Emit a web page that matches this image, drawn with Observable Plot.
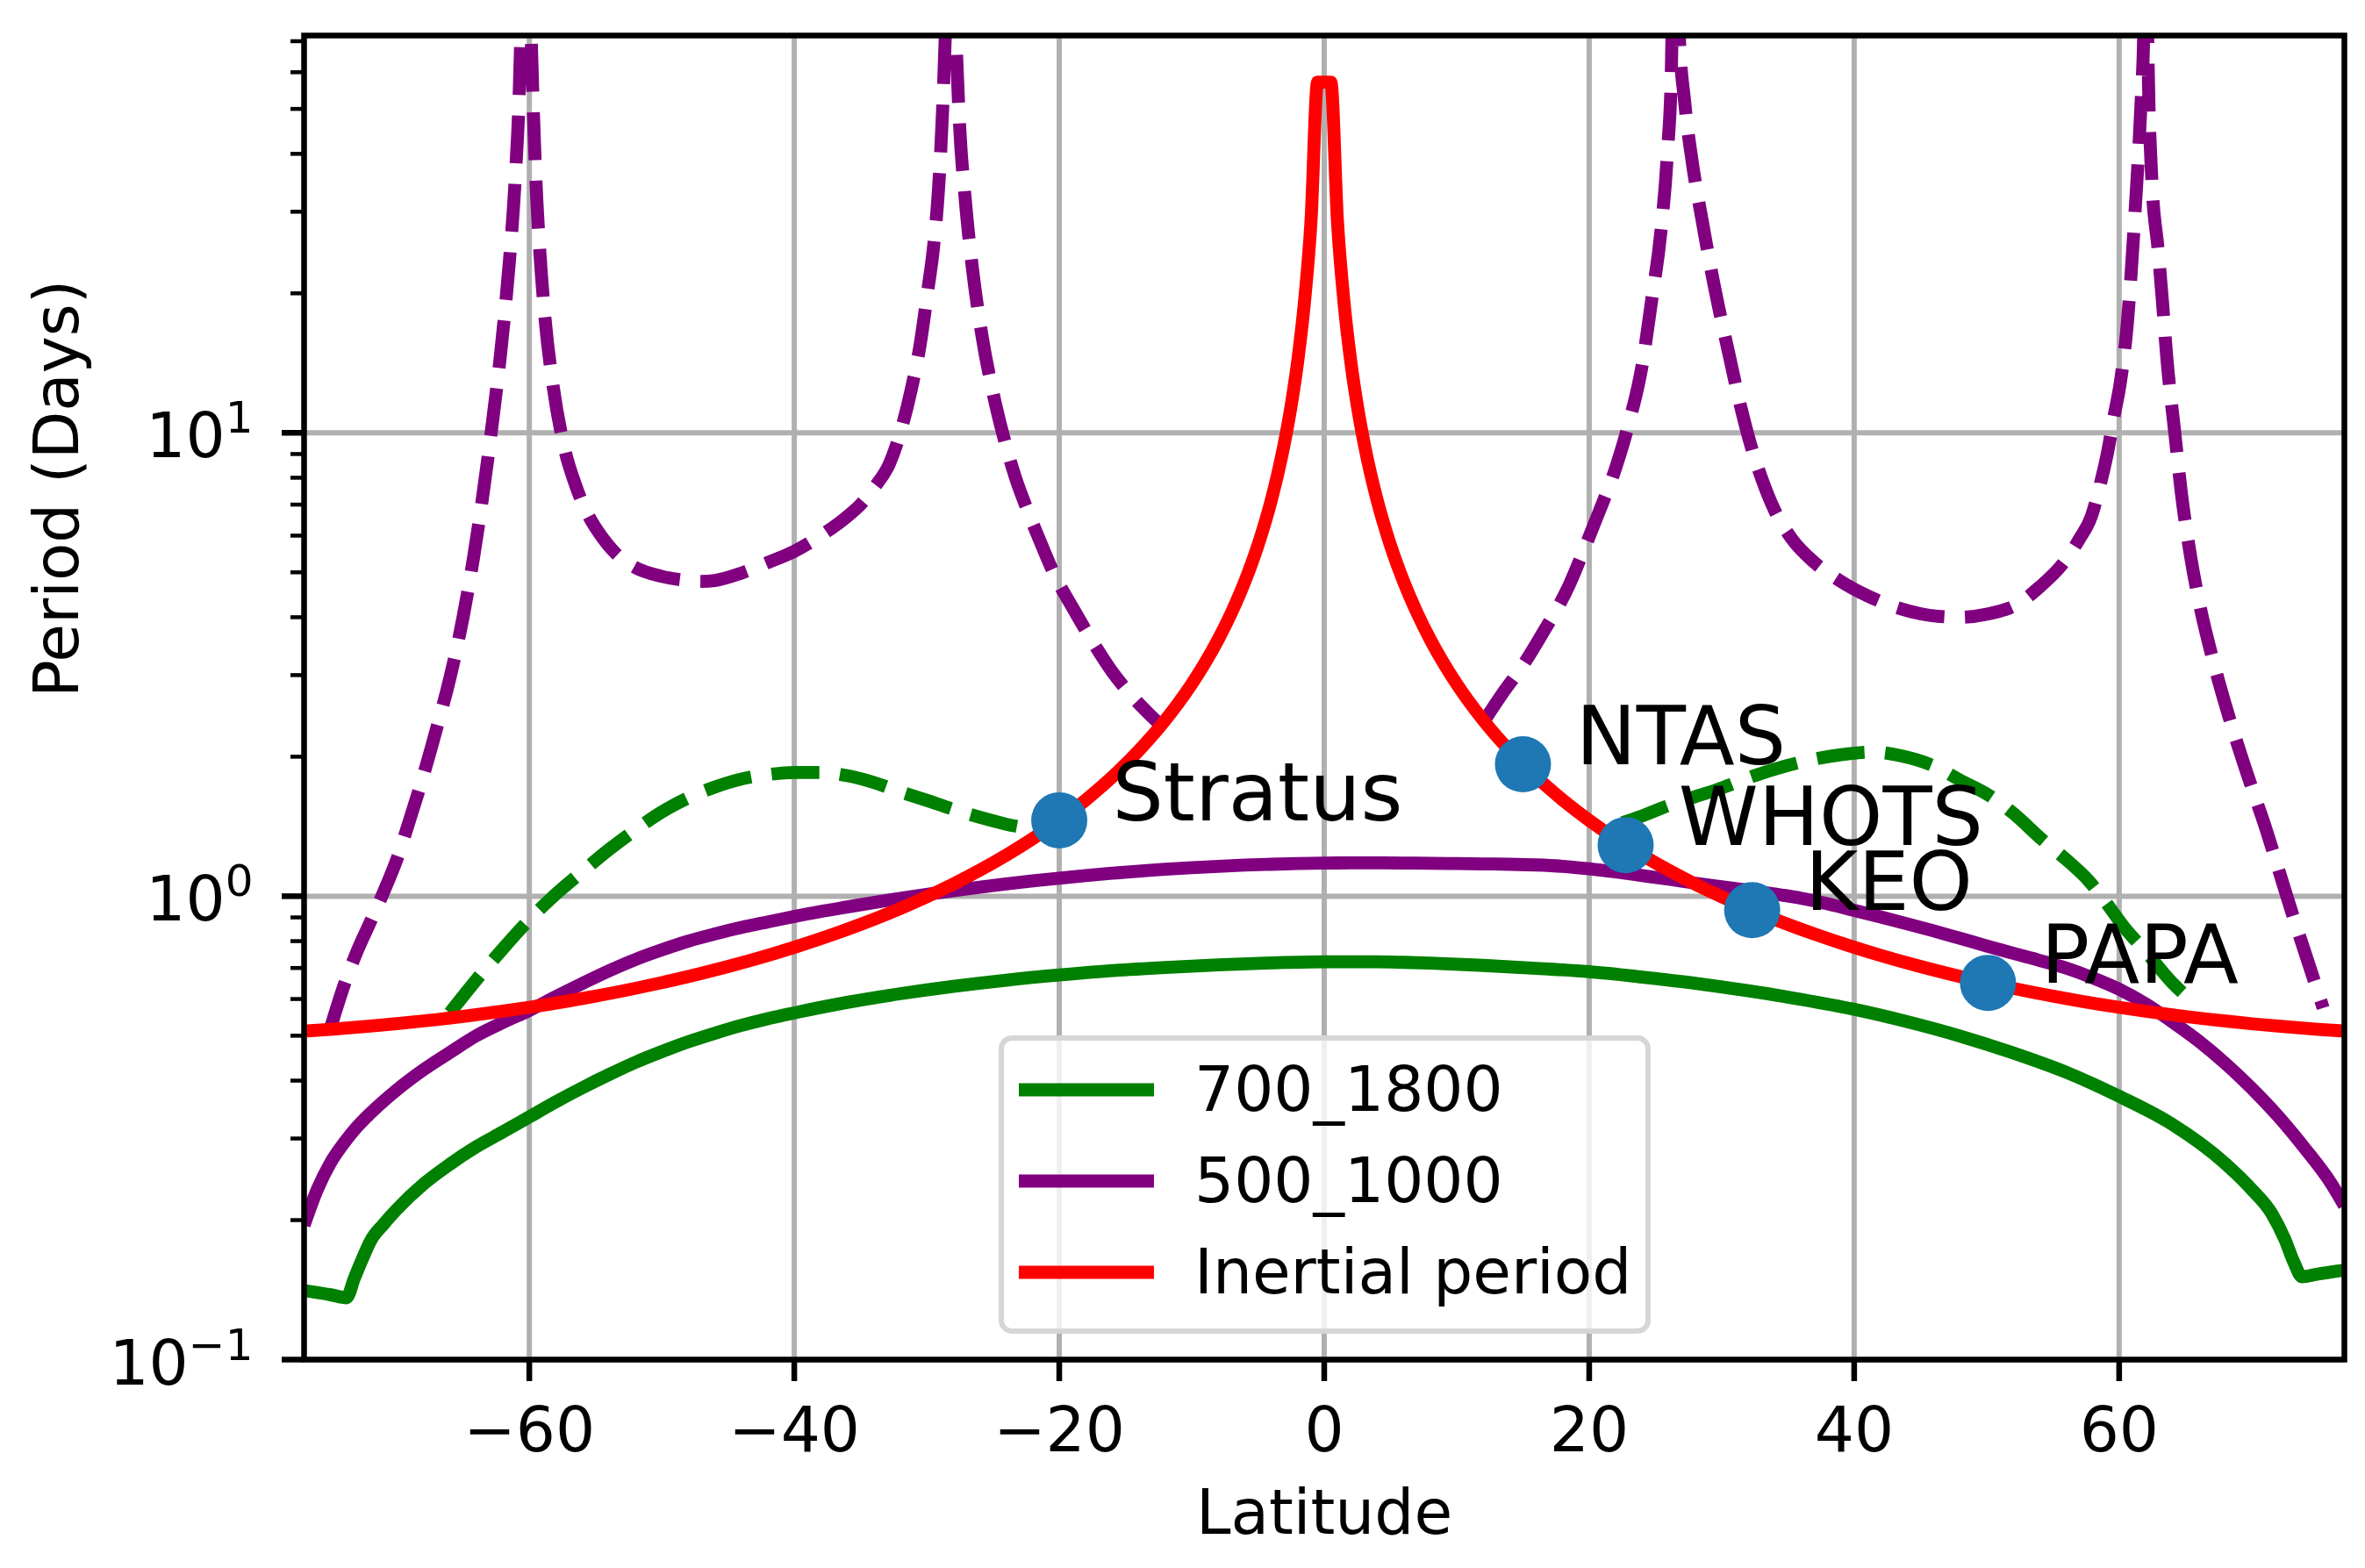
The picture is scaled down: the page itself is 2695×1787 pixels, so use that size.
<!DOCTYPE html>
<html><head><meta charset="utf-8">
<script src="https://cdn.jsdelivr.net/npm/d3@7"></script>
<script src="https://cdn.jsdelivr.net/npm/@observablehq/plot@0.6"></script>
<style>
html,body{margin:0;padding:0;background:#fff;}
#chart{position:relative;width:2695px;height:1787px;}
svg{font-family:"DejaVu Sans",sans-serif;}
</style></head><body><div id="chart"></div>
<script>
// ---- tick values ----
const xTicks = [-60, -40, -20, 0, 20, 40, 60];
const yMajorTicks = [0.1, 1, 10];
const yMinorTicks = [0.2,0.3,0.4,0.5,0.6,0.7,0.8,0.9,2,3,4,5,6,7,8,9,20,30,40,50,60,70];

// ---- series names / colours (legend) ----
const seriesNames = ["700_1800", "500_1000", "Inertial period"];
const seriesColors = ["green", "purple", "red"];

// ---- Inertial period (red) ----
const redLat = [-77,-75,-72,-70,-67,-65,-62,-60,-57,-55,-52,-50,-47,-45,-42,-40,-37,-35,-32,-30,-28,-26,-24,-22,-20,-18,-16,-14,-12,-10,-9,-8,-7,-6,-5,-4,-3.5,-3,-2.5,-2,-1.5,-1,-0.5,
  0.5,1,1.5,2,2.5,3,3.5,4,5,6,7,8,9,10,12,14,16,18,20,22,24,26,28,30,32,35,37,40,42,45,47,50,52,55,57,60,62,65,67,70,72,75,77];
const redVal = [0.5117,0.5162,0.5243,0.5306,0.5417,0.5501,0.5647,0.5757,0.5945,0.6087,0.6327,0.6509,0.6817,0.7051,0.7451,0.7757,0.8285,0.8693,0.9409,0.9972,1.062,1.1374,1.2258,1.331,1.4578,1.6135,1.8089,2.061,2.3981,2.8713,3.1873,3.5826,4.0913,4.77,5.7208,7.1478,8.167,9.5268,11.431,14.287,19.047,28.57,57.13,
  57.13,28.57,19.047,14.287,11.431,9.5268,8.167,7.1478,5.7208,4.77,4.0913,3.5826,3.1873,2.8713,2.3981,2.061,1.8089,1.6135,1.4578,1.331,1.2258,1.1374,1.062,0.9972,0.9409,0.8693,0.8285,0.7757,0.7451,0.7051,0.6817,0.6509,0.6327,0.6087,0.5945,0.5757,0.5647,0.5501,0.5417,0.5306,0.5243,0.5162,0.5117];

// ---- 500_1000 (purple solid) ----
const purpleLat = [-77,-76,-75,-74,-73,-72,-70,-68,-66,-64,-62,-60,-58,-56,-54,-52,-50,-48,-46,-44,-42,-40,-38,-36,-34,-32,-30,-28,-26,-24,-22,-20,-18,-16,-14,-12,-10,-8,-6,-4,-2,0,
  2,4,6,8,10,12,14,16,18,20,22,24,26,28,30,32,34,36,38,40,42,44,46,48,50,52,54,56,58,60,62,64,66,68,70,72,74,76,77];
const purpleVal = [0.195,0.233,0.266,0.293,0.318,0.34,0.382,0.422,0.46,0.5,0.534,0.567,0.607,0.648,0.69,0.73,0.766,0.8,0.829,0.856,0.88,0.904,0.927,0.948,0.969,0.99,1.009,1.028,1.046,1.063,1.079,1.094,1.108,1.121,1.132,1.143,1.152,1.16,1.167,1.172,1.176,1.179,
  1.18,1.18,1.179,1.178,1.176,1.174,1.172,1.168,1.16,1.146,1.128,1.108,1.088,1.067,1.048,1.03,1.011,0.99,0.963,0.932,0.902,0.872,0.842,0.811,0.781,0.753,0.727,0.7,0.667,0.63,0.586,0.536,0.487,0.436,0.385,0.335,0.286,0.24,0.215];

// ---- 700_1800 (green solid) ----
const greenLat = [-77,-75,-73.8,-73.2,-72.5,-72,-71,-70,-68,-66,-64,-62,-60,-58,-56,-54,-52,-50,-48,-46,-44,-42,-40,-36,-32,-28,-24,-20,-16,-12,-8,-4,0,
  2,4,6,8,12,16,20,24,28,32,36,40,44,48,52,56,60,64,68,70,71.5,72.5,73.2,73.8,75,77];
const greenVal = [0.141,0.138,0.136,0.15,0.1675,0.18,0.196,0.211,0.239,0.264,0.288,0.31,0.334,0.36,0.386,0.412,0.438,0.462,0.485,0.506,0.526,0.544,0.56,0.59,0.616,0.639,0.659,0.676,0.691,0.702,0.711,0.718,0.722,
  0.722,0.722,0.72,0.717,0.709,0.699,0.687,0.669,0.649,0.625,0.599,0.57,0.536,0.499,0.459,0.417,0.37,0.322,0.265,0.233,0.207,0.182,0.162,0.151,0.153,0.156];

// ---- 700_1800 shifted (green dashed) ----
const greenDashLeftLat = [-66,-64,-62,-60,-58,-56,-54,-52,-50,-48,-46,-44,-42,-40,-38,-36,-34,-32,-30,-28,-26,-24,-22,-21.3];
const greenDashLeftVal = [0.56,0.66,0.77,0.89,1.01,1.13,1.26,1.39,1.52,1.63,1.72,1.79,1.83,1.85,1.85,1.82,1.76,1.68,1.61,1.54,1.48,1.43,1.39,1.37];
const greenDashRightLat = [22.5,23.7,26,28,29.7,32,34,36.6,39,41.4,43.5,46.1,48,50.4,52,54.2,56,57.7,59,60.4,62,64,65.7];
const greenDashRightVal = [1.44,1.48,1.57,1.64,1.7,1.8,1.88,1.966,2.02,2.047,2.01,1.905,1.78,1.635,1.51,1.324,1.2,1.08,0.97,0.856,0.76,0.651,0.587];

// ---- 500_1000 shifted (purple dashed) ----
const purpleDashLeftLat = [-75,-74,-73,-72,-71,-70,-69,-68,-67,-66,-65,-64.2,-63.7,-63.2,-62.7,-62.2,-61.8,-61.5,-61.2,-61.0,-60.8,-60.65,-60.25,-59.85,-59.7,-59.5,-59.2,-58.8,-58.2,-57.4,-56.5,-55.5,-54.5,-53.5,-52,-50,-48,-47,-46,-44,-42,-40,-38,-36,-35,-34,-32.8,-32,-31.2,-30.5,-29.9,-29.5,-29.1,-28.8,-28.6,-28.2,-27.8,-27.5,-27.1,-26.5,-25.8,-25,-24.2,-23.3,-22.3,-21.3,-20.3,-19,-17.5,-16,-14.5,-13.2,-12.2];
const purpleDashLeftVal = [0.52,0.64,0.76,0.88,1.02,1.2,1.47,1.82,2.3,2.95,4.0,5.4,6.7,8.5,11.0,14.5,18.8,23.5,30.5,38,50,70,200,70,50,35,24.5,17.5,12.6,9.4,7.7,6.6,5.95,5.5,5.12,4.9,4.8,4.78,4.8,4.98,5.25,5.55,6.0,6.6,7.0,7.6,8.6,10,12.3,15.5,20.5,25,34,50,72,200,72,45,32,22,16,12.2,9.8,8.0,6.7,5.7,4.9,4.2,3.55,3.05,2.7,2.47,2.32];
const purpleDashRightLat = [12.2,13.5,15,16.5,18.5,19.5,20.7,22,23,24,24.7,25.4,25.9,26.2,26.5,26.8,27.2,27.8,28.5,29.2,29.8,30.5,31.4,32.2,33,34,35.3,37,38.8,41,43.2,45,46.3,48,50,52.4,54,55.7,57,57.9,58.6,59.1,59.6,60.1,60.6,60.9,61.2,61.5,61.7,61.85,62.0,62.16,62.45,62.95,63.25,63.6,64.2,64.7,65.4,66.2,67,68,69,70,71,72,73,74,75.4];
const purpleDashRightVal = [2.42,2.75,3.15,3.7,4.7,5.5,6.7,8.4,10.5,14,19.2,27,40,60,200,72,52,38,29,22.5,18.5,15,11.5,9.4,8.0,6.8,5.9,5.25,4.82,4.45,4.2,4.07,4.02,4.0,4.06,4.28,4.65,5.2,5.9,6.6,7.8,9.0,10.8,12.9,17,22,30,42,55,72,200,70,36,24.7,19.5,14.5,10,7.4,5.4,4.1,3.3,2.6,2.1,1.72,1.42,1.15,0.93,0.76,0.574];

// ---- moorings ----
const stationNames = ["Stratus", "NTAS", "WHOTS", "KEO", "PAPA"];
const stationLat = [-20, 15, 22.75, 32.3, 50.1];
const stationPeriod = [1.458, 1.926, 1.289, 0.933, 0.650];

// ---- build tables ----
const toRows = (lats, vals) => lats.map((lat, i) => ({lat, value: vals[i]}));
const red = toRows(redLat, redVal);
const purple = toRows(purpleLat, purpleVal);
const green = toRows(greenLat, greenVal);
const gdL = toRows(greenDashLeftLat, greenDashLeftVal);
const gdR = toRows(greenDashRightLat, greenDashRightVal);
const pdL = toRows(purpleDashLeftLat, purpleDashLeftVal);
const pdR = toRows(purpleDashRightLat, purpleDashRightVal);
const stations = stationNames.map((name, i) => ({name, lat: stationLat[i], value: stationPeriod[i]}));

const LW = 14.8;
const DASH = "54.5,23.5";
const solid = (data, color) => Plot.line(data, {x: "lat", y: "value", stroke: color, strokeWidth: LW, curve: "monotone-x", strokeLinejoin: "round", strokeLinecap: "butt", clip: true});
const dashed = (data, color) => Plot.line(data, {x: "lat", y: "value", stroke: color, strokeWidth: LW, curve: "monotone-x", strokeDasharray: DASH, strokeLinejoin: "round", strokeLinecap: "butt", clip: true});

const fmtLat = d => d < 0 ? "\u2212" + Math.abs(d) : String(d);

const plot = Plot.plot({
  width: 2695, height: 1787,
  marginLeft: 346, marginRight: 24, marginTop: 40, marginBottom: 238,
  style: {fontFamily: '"DejaVu Sans", sans-serif', background: "white", color: "black"},
  x: {domain: [-77, 77], label: null},
  y: {type: "log", domain: [0.1, 72], label: null},
  marks: [
    Plot.gridX(xTicks, {stroke: "#b0b0b0", strokeOpacity: 1, strokeWidth: 6}),
    Plot.gridY(yMajorTicks, {stroke: "#b0b0b0", strokeOpacity: 1, strokeWidth: 6}),
    solid(green, seriesColors[0]),
    dashed(gdL, seriesColors[0]),
    dashed(gdR, seriesColors[0]),
    solid(purple, seriesColors[1]),
    dashed(pdL, seriesColors[1]),
    dashed(pdR, seriesColors[1]),
    solid(red, seriesColors[2]),
    Plot.dot(stations, {x: "lat", y: "value", r: 32, fill: "#1f77b4", stroke: null}),
    Plot.text(stations, {x: "lat", y: "value", text: "name", dx: 60.4, textAnchor: "start", lineAnchor: "bottom", fontSize: 92, fill: "black"}),
    Plot.frame({stroke: "black", strokeWidth: 6.5}),
    Plot.axisX(xTicks, {anchor: "bottom", tickSize: 25, tickPadding: 28.6, strokeWidth: 6.5, fontSize: 71, tickFormat: fmtLat, label: null}),
    Plot.axisY(yMajorTicks, {anchor: "left", tickSize: 25, tickPadding: 33, strokeWidth: 6.5, fontSize: 71, tickFormat: d => "E" + Math.round(Math.log10(d)), label: null}),
    Plot.axisY(yMinorTicks, {anchor: "left", tickSize: 15, strokeWidth: 4.5, fill: "none", tickFormat: () => "", label: null}),
    Plot.text(["Latitude"], {text: d => d, frameAnchor: "bottom", dy: 198, lineAnchor: "bottom", fontSize: 71, fill: "black"}),
    Plot.text(["Period (Days)"], {text: d => d, frameAnchor: "left", dx: -258, rotate: -90, lineAnchor: "bottom", fontSize: 71, fill: "black"})
  ]
});

// superscript exponents on y tick labels (10^n)
d3.select(plot).selectAll("text").each(function () {
  const m = /^E(-?\d+)$/.exec(this.textContent);
  if (!m) return;
  const e = m[1].replace("-", "\u2212");
  this.textContent = "10";
  this.setAttribute("y", "28");
  const ts = document.createElementNS("http://www.w3.org/2000/svg", "tspan");
  ts.setAttribute("dy", "-28");
  ts.setAttribute("font-size", "50");
  ts.textContent = e;
  this.appendChild(ts);
});

// legend (inside axes, lower centre)
const lg = d3.select(plot).append("g").attr("class", "legend")
  .attr("text-anchor", "start").attr("font-family", '"DejaVu Sans", sans-serif');
lg.append("rect").attr("x", 1141).attr("y", 1183).attr("width", 737).attr("height", 334)
  .attr("rx", 12).attr("fill", "white").attr("fill-opacity", 0.8)
  .attr("stroke", "#d6d6d6").attr("stroke-width", 6);
seriesNames.forEach((name, i) => {
  const cy = 1242 + i * 104;
  lg.append("line").attr("x1", 1161).attr("x2", 1315).attr("y1", cy).attr("y2", cy)
    .attr("stroke", seriesColors[i]).attr("stroke-width", LW);
  lg.append("text").attr("x", 1361).attr("y", cy + 24).attr("font-size", 71)
    .attr("text-anchor", "start").attr("fill", "black").text(name);
});

document.getElementById("chart").appendChild(plot);
</script></body></html>
